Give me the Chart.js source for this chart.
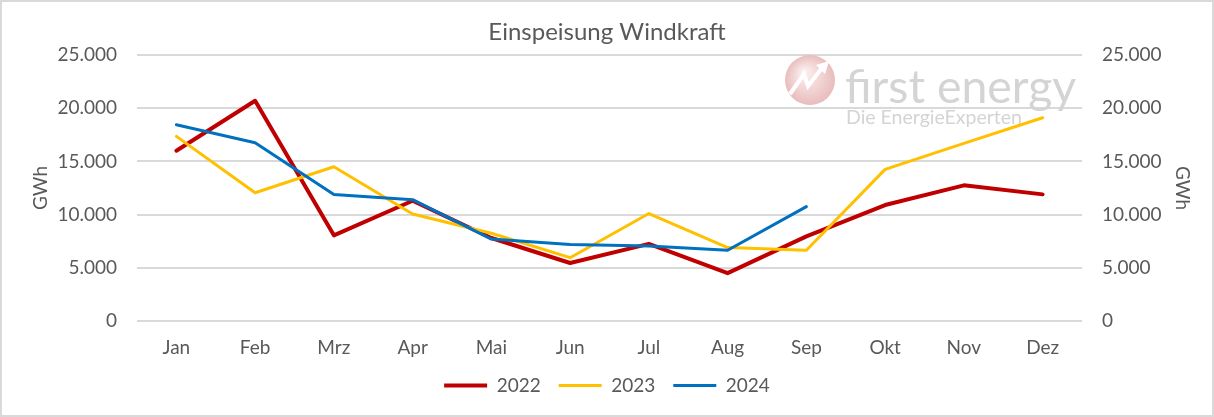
<!DOCTYPE html>
<html>
<head>
<meta charset="utf-8">
<script src="https://cdn.jsdelivr.net/npm/chart.js@4"></script>
<style>
  body { margin: 0; background: #fff; }
  #wrap { width: 1214px; height: 417px; box-sizing: border-box; border: 2px solid #d9d9d9; background: #fff; }
  canvas { display: block; }
</style>
</head>
<body>
<div id="wrap"><canvas id="chart" width="1210" height="413"></canvas></div>
<script>
const months = ['Jan', 'Feb', 'Mrz', 'Apr', 'Mai', 'Jun', 'Jul', 'Aug', 'Sep', 'Okt', 'Nov', 'Dez'];
const wind2022 = [16000, 20700, 8050, 11300, 7800, 5450, 7250, 4500, 7950, 10900, 12750, 11900];
const wind2023 = [17350, 12050, 14500, 10050, 8250, 5950, 10100, 6900, 6650, 14250, 16700, 19100];
const wind2024 = [18450, 16750, 11900, 11400, 7700, 7200, 7050, 6650, 10750, null, null, null];
const yTicks = [0, 5000, 10000, 15000, 20000, 25000];

const fontFamily = 'Lato, "Open Sans", sans-serif';
const grey = '#595959';

function formatDe(v) {
  return String(v).replace(/\B(?=(\d{3})+(?!\d))/g, '.');
}

// watermark logo behind the lines
const logoPlugin = {
  id: 'logo',
  beforeDatasetsDraw(chart) {
    const ctx = chart.ctx;
    ctx.save();
    // circle
    const cx = 808, cy = 78, r = 25;
    const g = ctx.createRadialGradient(cx - 6, cy - 8, 2, cx, cy, r);
    g.addColorStop(0, '#fbeeee');
    g.addColorStop(1, '#e9bcbc');
    ctx.fillStyle = g;
    ctx.beginPath();
    ctx.arc(cx, cy, r, 0, Math.PI * 2);
    ctx.fill();
    ctx.strokeStyle = '#ffffff';
    ctx.lineWidth = 4;
    ctx.lineJoin = 'miter';
    ctx.beginPath();
    ctx.moveTo(cx - 20, cy + 14);
    ctx.lineTo(cx - 6, cy - 6);
    ctx.lineTo(cx - 2, cy + 6);
    ctx.lineTo(cx + 12, cy - 12);
    ctx.stroke();
    ctx.fillStyle = '#ffffff';
    ctx.beginPath();
    ctx.moveTo(cx + 19, cy - 19);
    ctx.lineTo(cx + 6, cy - 15);
    ctx.lineTo(cx + 15, cy - 6);
    ctx.closePath();
    ctx.fill();
    // texts
    ctx.fillStyle = '#d4d4d4';
    ctx.textBaseline = 'alphabetic';
    ctx.font = '56px ' + fontFamily;
    let w = ctx.measureText('first energy').width;
    ctx.font = (56 * 231 / w).toFixed(1) + 'px ' + fontFamily;
    ctx.fillText('first energy', 843, 101);
    ctx.font = '20px ' + fontFamily;
    w = ctx.measureText('Die EnergieExperten').width;
    ctx.font = (20 * 176 / w).toFixed(1) + 'px ' + fontFamily;
    ctx.fillText('Die EnergieExperten', 844, 122);
    ctx.restore();
  }
};

function yAxis(position, width, titlePad) {
  return {
    position: position,
    min: 0,
    max: 25000,
    afterFit(scale) { scale.width = width; },
    afterBuildTicks(scale) { scale.ticks = yTicks.map(v => ({ value: v })); },
    grid: { display: position === 'left', color: '#d9d9d9', lineWidth: 2, drawTicks: false },
    border: { display: false },
    ticks: {
      padding: 20,
      color: grey,
      font: { family: fontFamily, size: 19 },
      callback: (v) => formatDe(v)
    },
    title: {
      display: true,
      text: 'GWh',
      color: grey,
      font: { family: fontFamily, size: 19 },
      padding: { top: titlePad, bottom: 0 }
    }
  };
}

const ctx = document.getElementById('chart').getContext('2d');
new Chart(ctx, {
  type: 'line',
  data: {
    labels: months,
    datasets: [
      { label: '2022', data: wind2022, borderColor: '#c00000', backgroundColor: '#c00000', borderWidth: 4, order: 2 },
      { label: '2023', data: wind2023, borderColor: '#ffc000', backgroundColor: '#ffc000', borderWidth: 3, order: 1 },
      { label: '2024', data: wind2024, borderColor: '#0070c0', backgroundColor: '#0070c0', borderWidth: 3, order: 0 }
    ]
  },
  options: {
    responsive: false,
    animation: false,
    layout: { padding: { left: 0, right: 0, top: 0, bottom: 10 } },
    elements: {
      line: { tension: 0, borderCapStyle: 'round', borderJoinStyle: 'round', fill: false },
      point: { radius: 0, hoverRadius: 0 }
    },
    scales: {
      x: {
        offset: true,
        afterFit(scale) { scale.height = 37; },
        grid: { display: false, drawTicks: false },
        border: { display: false },
        ticks: { padding: 15, color: grey, font: { family: fontFamily, size: 19 }, maxRotation: 0 }
      },
      y: yAxis('left', 135, 27),
      y2: yAxis('right', 130, 18)
    },
    plugins: {
      title: {
        display: true,
        text: 'Einspeisung Windkraft',
        color: grey,
        font: { family: fontFamily, size: 24, weight: 'normal' },
        padding: { top: 15.6, bottom: 8.6 }
      },
      legend: {
        position: 'bottom',
        labels: {
          usePointStyle: true,
          pointStyle: 'line',
          pointStyleWidth: 43,
          padding: 18,
          color: grey,
          font: { family: fontFamily, size: 19 },
          sort: (a, b) => a.datasetIndex - b.datasetIndex
        }
      },
      tooltip: { enabled: false }
    }
  },
  plugins: [logoPlugin]
});
</script>
</body>
</html>
